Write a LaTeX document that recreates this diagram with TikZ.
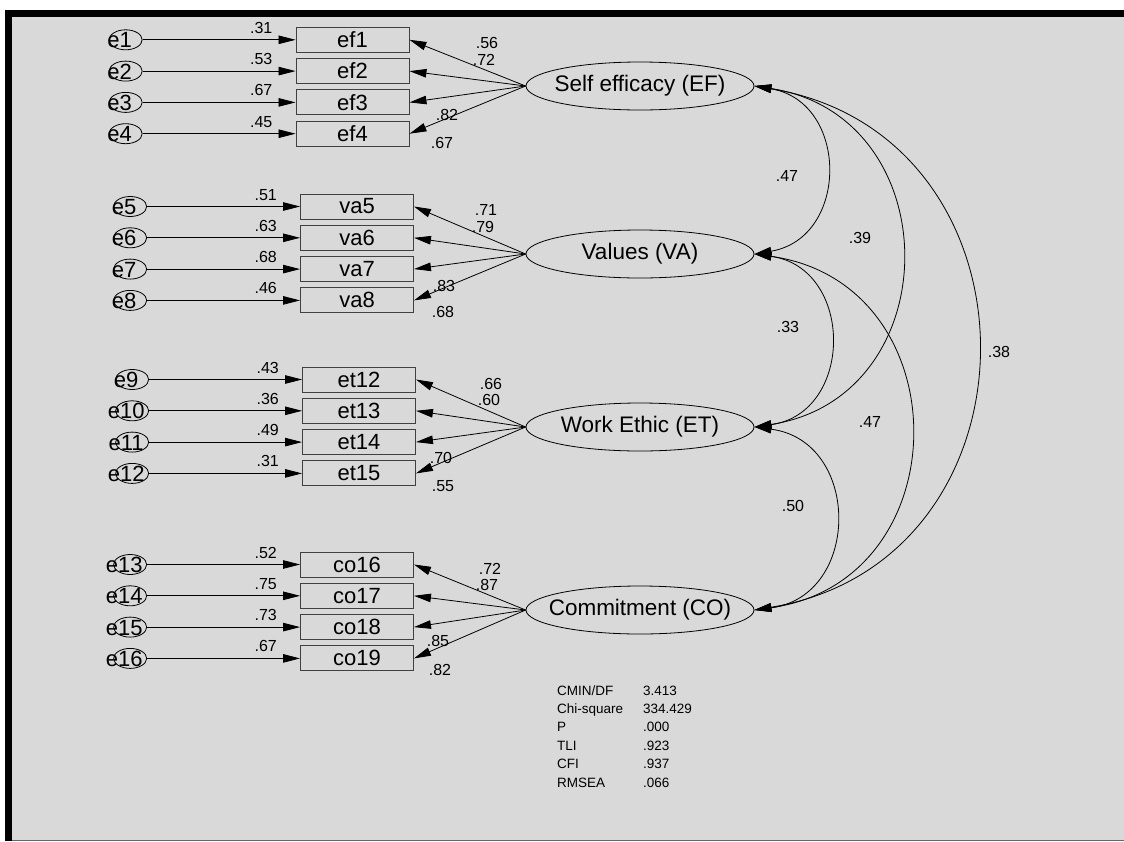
\documentclass[tikz,border=0pt]{standalone}
\usepackage{fontspec}
\setmainfont{Liberation Sans}
\usetikzlibrary{shapes,arrows.meta,positioning}
\definecolor{bggray}{HTML}{D9D9D9}
\newcommand{\errtxt}[1]{\raisebox{-8pt}[0pt][0pt]{\makebox[0pt]{\kern-12pt #1}}}
\newcommand{\lattxt}[1]{\makebox[0pt]{#1}}

\begin{document}
\begin{tikzpicture}[
    x=1pt, y=1pt,
    obs/.style={rectangle, draw=black!75, line width=0.9pt, minimum width=113pt, minimum height=25pt, inner sep=0pt, font=\fontsize{22}{26}\selectfont},
    err/.style={ellipse, draw, line width=0.8pt, minimum width=33pt, minimum height=20pt, inner sep=0pt, font=\fontsize{22}{26}\selectfont},
    latent/.style={ellipse, draw, line width=0.8pt, minimum width=228pt, minimum height=48pt, inner sep=0pt, font=\fontsize{22.5}{26}\selectfont},
    est/.style={inner sep=0pt, font=\fontsize{16}{18}\selectfont},
    arrow/.style={-{Triangle[length=17pt,width=8.5pt]}, line width=0.8pt},
    cov/.style={{Triangle[length=17pt,width=8.5pt]}-{Triangle[length=17pt,width=8.5pt]}, line width=0.8pt}
]
\useasboundingbox (0,0) rectangle (1124,-841);
\fill[white] (0,0) rectangle (1124,-841);
\fill[black] (5,-10) rectangle (1124,-841);
\fill[bggray] (12,-17) rectangle (1124,-840);
\fill[black!60] (12,-840) rectangle (1124,-841);

\node[latent] (EF) at (640,-86) {\lattxt{Self efficacy (EF)}};
\node[latent] (VA) at (640,-254) {\lattxt{Values (VA)}};
\node[latent] (ET) at (640,-427) {\lattxt{Work Ethic (ET)}};
\node[latent] (CO) at (640,-610) {\lattxt{Commitment (CO)}};

\node[obs] (ef1) at (352.5,-39.8) {ef1};
\node[obs, below=5.4pt of ef1] (ef2) {ef2};
\node[obs, below=5.4pt of ef2] (ef3) {ef3};
\node[obs, below=5.4pt of ef3] (ef4) {ef4};
\node[obs] (va5) at (357,-206.5) {va5};
\node[obs, below=5.4pt of va5] (va6) {va6};
\node[obs, below=5.4pt of va6] (va7) {va7};
\node[obs, below=5.4pt of va7] (va8) {va8};
\node[obs] (et12) at (359,-379.5) {et12};
\node[obs, below=5.4pt of et12] (et13) {et13};
\node[obs, below=5.4pt of et13] (et14) {et14};
\node[obs, below=5.4pt of et14] (et15) {et15};
\node[obs] (co16) at (357,-564.5) {co16};
\node[obs, below=5.4pt of co16] (co17) {co17};
\node[obs, below=5.4pt of co17] (co18) {co18};
\node[obs, below=5.4pt of co18] (co19) {co19};

\node[err, left=153pt of ef1] (e1) {\errtxt{e1}};
\node[err, left=153pt of ef2] (e2) {\errtxt{e2}};
\node[err, left=153pt of ef3] (e3) {\errtxt{e3}};
\node[err, left=153pt of ef4] (e4) {\errtxt{e4}};
\node[err, left=153pt of va5] (e5) {\errtxt{e5}};
\node[err, left=153pt of va6] (e6) {\errtxt{e6}};
\node[err, left=153pt of va7] (e7) {\errtxt{e7}};
\node[err, left=153pt of va8] (e8) {\errtxt{e8}};
\node[err, left=153pt of et12] (e9) {\errtxt{e9}};
\node[err, left=153pt of et13] (e10) {\errtxt{e10}};
\node[err, left=153pt of et14] (e11) {\errtxt{e11}};
\node[err, left=153pt of et15] (e12) {\errtxt{e12}};
\node[err, left=153pt of co16] (e13) {\errtxt{e13}};
\node[err, left=153pt of co17] (e14) {\errtxt{e14}};
\node[err, left=153pt of co18] (e15) {\errtxt{e15}};
\node[err, left=153pt of co19] (e16) {\errtxt{e16}};

\draw[arrow] (e1) -- (ef1);
\draw[arrow] (e2) -- (ef2);
\draw[arrow] (e3) -- (ef3);
\draw[arrow] (e4) -- (ef4);
\draw[arrow] (e5) -- (va5);
\draw[arrow] (e6) -- (va6);
\draw[arrow] (e7) -- (va7);
\draw[arrow] (e8) -- (va8);
\draw[arrow] (e9) -- (et12);
\draw[arrow] (e10) -- (et13);
\draw[arrow] (e11) -- (et14);
\draw[arrow] (e12) -- (et15);
\draw[arrow] (e13) -- (co16);
\draw[arrow] (e14) -- (co17);
\draw[arrow] (e15) -- (co18);
\draw[arrow] (e16) -- (co19);

\draw[arrow] (EF.west) -- (ef1.east);
\draw[arrow] (EF.west) -- (ef2.east);
\draw[arrow] (EF.west) -- (ef3.east);
\draw[arrow] (EF.west) -- (ef4.east);
\draw[arrow] (VA.west) -- (va5.east);
\draw[arrow] (VA.west) -- (va6.east);
\draw[arrow] (VA.west) -- (va7.east);
\draw[arrow] (VA.west) -- (va8.east);
\draw[arrow] (ET.west) -- (et12.east);
\draw[arrow] (ET.west) -- (et13.east);
\draw[arrow] (ET.west) -- (et14.east);
\draw[arrow] (ET.west) -- (et15.east);
\draw[arrow] (CO.west) -- (co16.east);
\draw[arrow] (CO.west) -- (co17.east);
\draw[arrow] (CO.west) -- (co18.east);
\draw[arrow] (CO.west) -- (co19.east);

\node[est, anchor=base east] (sq1) at ([shift={(-23,6.5)}]ef1.west) {.31};
\node[est, anchor=base east] (sq2) at ([shift={(-23,6.5)}]ef2.west) {.53};
\node[est, anchor=base east] (sq3) at ([shift={(-23,6.5)}]ef3.west) {.67};
\node[est, anchor=base east] (sq4) at ([shift={(-23,6.5)}]ef4.west) {.45};
\node[est, anchor=base east] (sq5) at ([shift={(-23,6.5)}]va5.west) {.51};
\node[est, anchor=base east] (sq6) at ([shift={(-23,6.5)}]va6.west) {.63};
\node[est, anchor=base east] (sq7) at ([shift={(-23,6.5)}]va7.west) {.68};
\node[est, anchor=base east] (sq8) at ([shift={(-23,6.5)}]va8.west) {.46};
\node[est, anchor=base east] (sq9) at ([shift={(-23,6.5)}]et12.west) {.43};
\node[est, anchor=base east] (sq10) at ([shift={(-23,6.5)}]et13.west) {.36};
\node[est, anchor=base east] (sq11) at ([shift={(-23,6.5)}]et14.west) {.49};
\node[est, anchor=base east] (sq12) at ([shift={(-23,6.5)}]et15.west) {.31};
\node[est, anchor=base east] (sq13) at ([shift={(-23,6.5)}]co16.west) {.52};
\node[est, anchor=base east] (sq14) at ([shift={(-23,6.5)}]co17.west) {.75};
\node[est, anchor=base east] (sq15) at ([shift={(-23,6.5)}]co18.west) {.73};
\node[est, anchor=base east] (sq16) at ([shift={(-23,6.5)}]co19.west) {.67};

\node[est] (ld1) at (487,-43) {.56};
\node[est] (ld2) at (484,-60) {.72};
\node[est] (ld3) at (447,-115) {.82};
\node[est] (ld4) at (442,-143) {.67};
\node[est] (ld5) at (486,-210) {.71};
\node[est] (ld6) at (483,-227) {.79};
\node[est] (ld7) at (444,-286) {.83};
\node[est] (ld8) at (443,-312) {.68};
\node[est] (ld9) at (491,-384) {.66};
\node[est] (ld10) at (489,-400) {.60};
\node[est] (ld11) at (441,-458) {.70};
\node[est] (ld12) at (443,-486) {.55};
\node[est] (ld13) at (490,-569) {.72};
\node[est] (ld14) at (487,-585) {.87};
\node[est] (ld15) at (438,-641) {.85};
\node[est] (ld16) at (440,-670) {.82};

\draw[cov] (EF.east) .. controls +(95,-16) and +(95,16) .. (VA.east);
\draw[cov] (EF.east) .. controls +(195,-30) and +(195,30) .. (ET.east);
\draw[cov] (EF.east) .. controls +(296,-49) and +(296,49) .. (CO.east);
\draw[cov] (VA.east) .. controls +(100,-14) and +(100,14) .. (ET.east);
\draw[cov] (VA.east) .. controls +(207,-29) and +(207,29) .. (CO.east);
\draw[cov] (ET.east) .. controls +(107,-14) and +(107,14) .. (CO.east);

\node[est] (c1) at (787,-176) {.47};
\node[est] (c2) at (860,-238) {.39};
\node[est] (c3) at (999,-352) {.38};
\node[est] (c4) at (788,-327) {.33};
\node[est] (c5) at (870,-422) {.47};
\node[est] (c6) at (793,-506) {.50};

\node[anchor=north west, inner sep=0pt, font=\fontsize{13.5}{18.4}\selectfont] (fitidx) at (557,-682) {\begin{tabular}{@{}p{86pt}@{}l@{}}
CMIN/DF & 3.413\\
Chi-square & 334.429\\
P & .000\\
TLI & .923\\
CFI & .937\\
RMSEA & .066
\end{tabular}};
\end{tikzpicture}
\end{document}
